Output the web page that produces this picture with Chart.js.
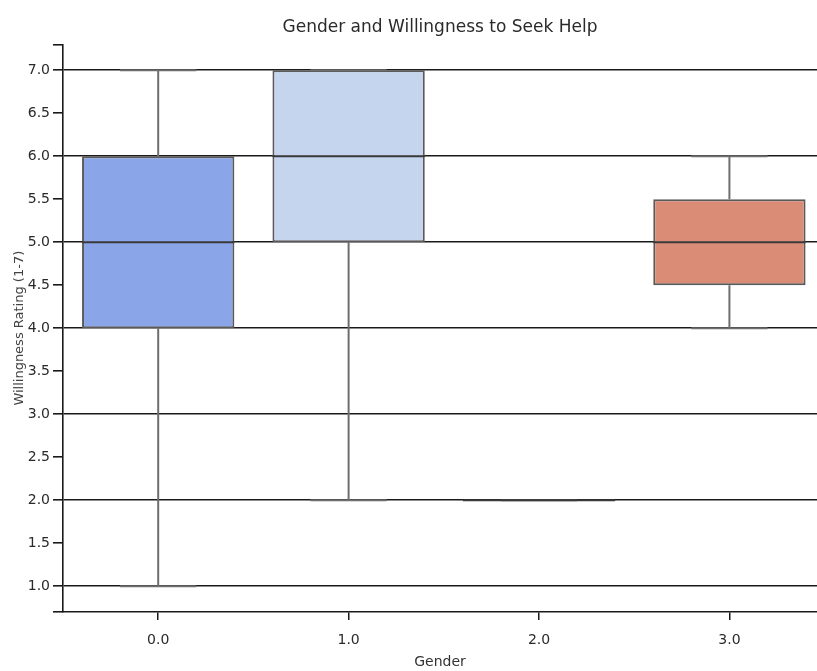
<!DOCTYPE html>
<html>
<head>
<meta charset="utf-8">
<script src="https://cdn.jsdelivr.net/npm/chart.js@4/dist/chart.umd.min.js"></script>
<style>
  html, body { margin: 0; padding: 0; background: #ffffff; }
  #wrap { width: 817px; height: 671px; }
</style>
</head>
<body>
<div id="wrap"><canvas id="c" width="817" height="671"></canvas></div>
<script>
// ---- data ----
const categories = [0, 1, 2, 3];
const xTickLabels = ['0.0', '1.0', '2.0', '3.0'];
const whiskerLow  = [1.0, 2.0, 2.0, 4.0];
const q1          = [4.0, 5.0, 2.0, 4.5];
const median      = [5.0, 6.0, 2.0, 5.0];
const q3          = [6.0, 7.0, 2.0, 5.5];
const whiskerHigh = [7.0, 7.0, 2.0, 6.0];
const boxColors   = ['#8aa5e8', '#c5d5ee', '#d9d9d9', '#db8c77'];
const yTickValues = [1.0, 1.5, 2.0, 2.5, 3.0, 3.5, 4.0, 4.5, 5.0, 5.5, 6.0, 6.5, 7.0];

const BOX_HALF = 0.4;
const CAP_HALF = 0.2;
const DARK = '#1a1a1a';
const FONT = 'DejaVu Sans';

// whisker segments (vertical stems + caps), separated by gaps
const whiskerData = [];
categories.forEach((c, i) => {
  whiskerData.push({x: c, y: whiskerLow[i]}, {x: c, y: q1[i]}, {x: c, y: null});
  whiskerData.push({x: c, y: q3[i]}, {x: c, y: whiskerHigh[i]}, {x: c, y: null});
  whiskerData.push({x: c - CAP_HALF, y: whiskerLow[i]}, {x: c + CAP_HALF, y: whiskerLow[i]}, {x: c, y: null});
  whiskerData.push({x: c - CAP_HALF, y: whiskerHigh[i]}, {x: c + CAP_HALF, y: whiskerHigh[i]}, {x: c, y: null});
});
const medianData = [];
categories.forEach((c, i) => {
  medianData.push({x: c - BOX_HALF, y: median[i]}, {x: c + BOX_HALF, y: median[i]}, {x: c, y: null});
});
const boxData = categories.map((c, i) => ({x: c, y: [q1[i], q3[i]]}));

new Chart(document.getElementById('c'), {
  type: 'bar',
  data: {
    datasets: [
      {
        type: 'line', label: 'median', data: medianData,
        borderColor: '#3a3a3a', borderWidth: 2, pointRadius: 0, spanGaps: false, tension: 0
      },
      {
        type: 'line', label: 'whiskers', data: whiskerData,
        borderColor: '#6e6e6e', borderWidth: 2, pointRadius: 0, spanGaps: false, tension: 0
      },
      {
        type: 'bar', label: 'box', data: boxData,
        backgroundColor: boxColors, borderColor: '#5a5a5a', borderWidth: 2,
        borderSkipped: false, barPercentage: 1.0, categoryPercentage: 0.8
      }
    ]
  },
  options: {
    responsive: false,
    animation: false,
    layout: { padding: 0 },
    plugins: {
      legend: { display: false },
      tooltip: { enabled: false },
      title: {
        display: true,
        fullSize: false,
        text: 'Gender and Willingness to Seek Help',
        color: '#2a2a2a',
        font: { family: FONT, size: 17, weight: 'normal' },
        padding: { top: 17, bottom: 7 }
      }
    },
    scales: {
      x: {
        type: 'linear',
        offset: false,
        min: -0.5, max: 3.46,
        afterBuildTicks: (s) => { s.ticks = categories.map(v => ({value: v})); },
        afterFit: (s) => { s.height = 59; },
        ticks: {
          callback: (v) => { const i = categories.indexOf(v); return i >= 0 ? xTickLabels[i] : ''; },
          color: '#2a2a2a', font: { family: FONT, size: 14 }, padding: 12, maxRotation: 0
        },
        grid: { offset: false, drawOnChartArea: false, tickLength: 8, tickColor: DARK, lineWidth: 1.5 },
        border: { display: true, color: DARK, width: 1.5 },
        title: {
          display: true, text: 'Gender', color: '#333',
          font: { family: FONT, size: 14 }, padding: { top: 0, bottom: 0 }
        }
      },
      y: {
        type: 'linear',
        min: 0.7, max: 7.3,
        z: 1,
        afterBuildTicks: (s) => { s.ticks = [s.min, ...yTickValues, s.max].map(v => ({value: v})); },
        afterFit: (s) => { s.width = 63; },
        ticks: {
          callback: (v) => yTickValues.includes(v) ? v.toFixed(1) : '',
          color: '#2a2a2a', font: { family: FONT, size: 14 }, padding: 3
        },
        grid: {
          color: (ctx) => (ctx.tick && Number.isInteger(ctx.tick.value)) ? DARK : 'rgba(0,0,0,0)',
          tickColor: DARK, tickLength: 10, lineWidth: 1.6
        },
        border: { display: true, color: DARK, width: 1.6 },
        title: {
          display: true, text: 'Willingness Rating (1-7)', color: '#444',
          font: { family: FONT, size: 13 }, padding: { top: 12, bottom: 0 }
        }
      }
    }
  }
});
</script>
</body>
</html>
